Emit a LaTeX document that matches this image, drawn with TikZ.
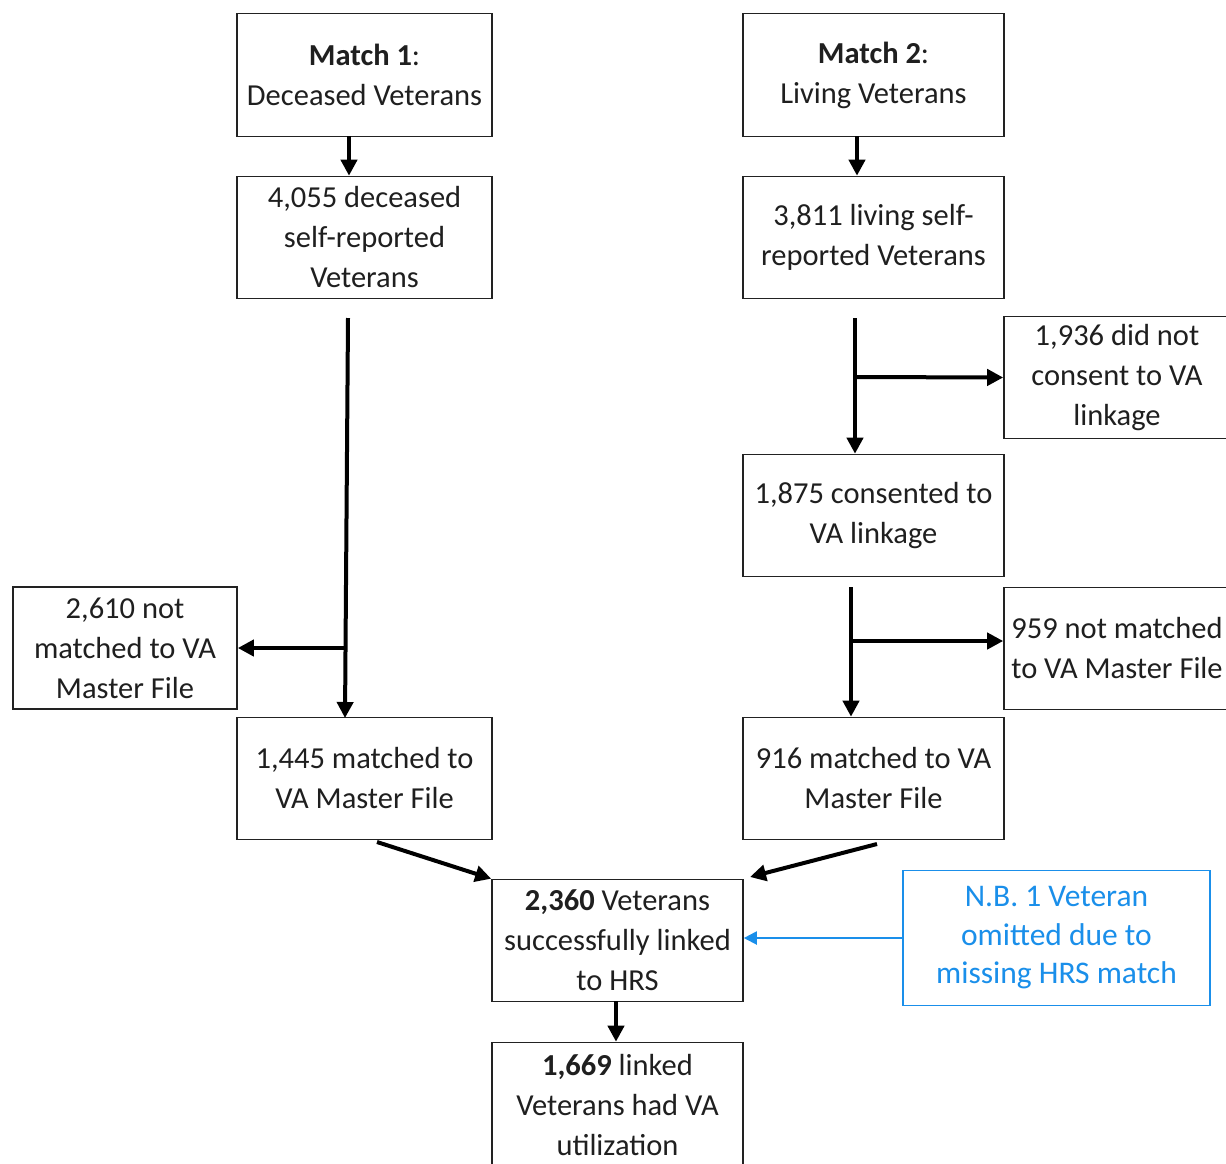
\documentclass[tikz,border=0pt]{standalone}
\usepackage{fontspec}
\setmainfont{Carlito}
\usetikzlibrary{arrows.meta}
\definecolor{nbblue}{HTML}{1A8FEA}
\definecolor{boxline}{HTML}{222222}
\tikzset{
  box/.style={draw=boxline, line width=1.6pt, align=center, inner sep=0pt,
    font=\fontsize{30.5}{40}\selectfont, text=black!88},
  arr/.style={line width=4pt, -{Triangle[length=16pt,width=16pt]}},
  bluearr/.style={draw=nbblue, line width=2pt, -{Triangle[length=13pt,width=13pt]}},
}
\begin{document}
\begin{tikzpicture}[x=1pt,y=-1pt]
\useasboundingbox (0,0) rectangle (1226,1163);
\clip (0,0) rectangle (1226,1163);
\fill[white] (0,0) rectangle (1226,1163);
% boxes
\node[box, minimum width=255pt, minimum height=123pt] (M1) at (364.5,75) {\textbf{Match 1}:\\Deceased Veterans};
\node[box, minimum width=261pt, minimum height=123pt] (M2) at (873.5,75) {\textbf{Match 2}:\\Living Veterans};
\node[box, minimum width=255pt, minimum height=122pt] (D1) at (364.5,237.5) {4,055 deceased\\self-reported\\Veterans};
\node[box, minimum width=261pt, minimum height=122pt] (L1) at (873.5,237.5) {3,811 living self-\\reported Veterans};
\node[box, minimum width=226pt, minimum height=122pt] (NC) at (1117,377.5) {1,936 did not\\consent to VA\\linkage};
\node[box, minimum width=261pt, minimum height=122pt] (C) at (873.5,515.5) {1,875 consented to\\VA linkage};
\node[box, minimum width=224pt, minimum height=122pt] (NM1) at (125,648) {2,610 not\\matched to VA\\Master File};
\node[box, minimum width=226pt, minimum height=122pt] (NM2) at (1117,648.5) {959 not matched\\to VA Master File};
\node[box, minimum width=255pt, minimum height=122pt] (M1F) at (364.5,778.5) {1,445 matched to\\VA Master File};
\node[box, minimum width=261pt, minimum height=122pt] (M2F) at (873.5,778.5) {916 matched to VA\\Master File};
\node[box, minimum width=251pt, minimum height=122pt] (H) at (617.5,940.5) {\textbf{2,360} Veterans\\successfully linked\\to HRS};
\node[box, minimum width=251pt, minimum height=126pt] (U) at (617.5,1105.5) {\textbf{1,669} linked\\Veterans had VA\\utilization};
\node[box, draw=nbblue, text=nbblue, line width=1.6pt, minimum width=307pt, minimum height=135pt,
  font=\fontsize{31.5}{38.5}\selectfont] (NB) at (1056.5,938) {N.B. 1 Veteran\\omitted due to\\missing HRS match};
% coordinates
\coordinate (m1s) at (349,136);
\coordinate (m2s) at (857,136);
\coordinate (d1s) at (348,318);
\coordinate (d1e) at (345,718);
\coordinate (d1b) at (346,648);
\coordinate (l1s) at (855,318);
\coordinate (l1b) at (855,377);
\coordinate (cs) at (851,587);
\coordinate (cb) at (851,641);
\coordinate (c1) at (377,842);
\coordinate (c2) at (877,844);
\coordinate (ht) at (750,877);
\coordinate (hs) at (616,1001);
% connectors
\draw[arr] (m1s) -- (m1s |- D1.north);
\draw[arr] (m2s) -- (m2s |- L1.north);
\draw[arr] (d1s) -- (d1e);
\draw[arr] (d1b) -- (NM1.east);
\draw[arr] (l1s) -- (l1s |- C.north);
\draw[arr] (l1b) -- (NC.west);
\draw[arr] (cs) -- (cs |- M2F.north);
\draw[arr] (cb) -- (cb -| NM2.west);
\draw[arr] (c1) -- (H.north west);
\draw[arr] (c2) -- (ht);
\draw[arr] (hs) -- (hs |- U.north);
\draw[bluearr] (NB.west) -- (NB.west -| H.east);
\end{tikzpicture}
\end{document}
